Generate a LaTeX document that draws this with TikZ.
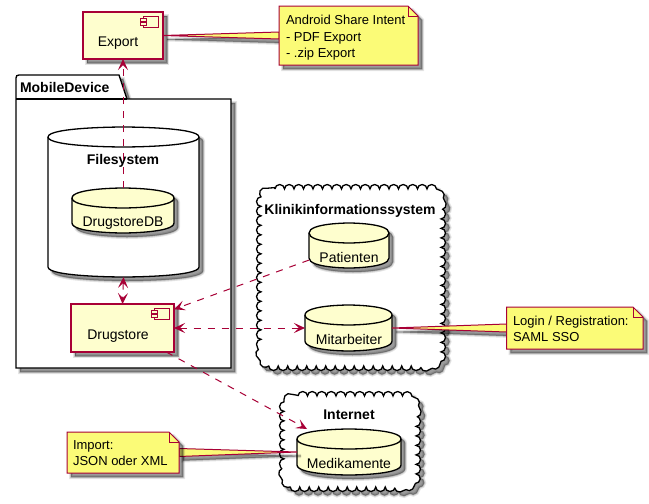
\documentclass[tikz,border=0pt]{standalone}
\usepackage{fontspec}
\setmainfont{Liberation Sans}
\usetikzlibrary{arrows.meta,calc,decorations.pathmorphing}
\definecolor{pumlred}{HTML}{A80036}
\definecolor{pumlfill}{HTML}{FEFECE}
\definecolor{pumlnote}{HTML}{FBFB77}
\tikzset{
  x=1pt,y=-1pt,
  shad/.style={
    preaction={draw=black,fill=black,line width=4,draw opacity=.1,fill opacity=.1,transform canvas={shift={(4pt,-4pt)}}},
    preaction={draw=black,fill=black,line width=2,draw opacity=.14,fill opacity=.14,transform canvas={shift={(4pt,-4pt)}}},
    preaction={draw=black,fill=black,line width=.5,draw opacity=.2,fill opacity=.2,transform canvas={shift={(4pt,-4pt)}}}},
  anchorbox/.style={inner sep=0,outer sep=0,anchor=north west},
  compshape/.style={shad,draw=pumlred,fill=pumlfill,line width=1.2},
  compicon/.style={draw=pumlred,fill=pumlfill,line width=1},
  dbshape/.style={shad,draw=black,fill=pumlfill,line width=1.3},
  dbwhite/.style={shad,draw=black,fill=white,line width=1.3},
  dbline/.style={draw=black,line width=1.3},
  pkgshape/.style={shad,draw=black,fill=white,line width=1.3},
  cloudshape/.style={shad,draw=black,fill=white,line width=1.3,decorate,decoration={bumps,segment length=19pt,amplitude=4.5pt}},
  noteshape/.style={shad,draw=pumlred,fill=pumlnote,line width=1},
  wedge/.style={shad,draw=pumlred,fill=pumlnote,line width=1},
  body/.style={inner sep=0,outer sep=0,anchor=base,font=\fontsize{14}{16}\selectfont},
  titl/.style={inner sep=0,outer sep=0,anchor=base,font=\fontsize{14}{16}\selectfont\bfseries},
  notetext/.style={inner sep=0,outer sep=0,anchor=base west,font=\fontsize{13}{15}\selectfont},
  dep/.style={draw=pumlred,line width=1,dash pattern=on 7pt off 7pt,>={Stealth[inset=5pt,length=11pt,width=10pt,line width=1pt]}},
}
% name, x1, y1, x2, y2
\newcommand{\regnode}[5]{\node[anchorbox,minimum width={(#4-#2)*1pt},minimum height={(#5-#3)*1pt}] (#1) at (#2,#3) {};}
\newcommand{\compnode}[5]{%
  \path[compshape] (#2,#3) rectangle (#4,#5);
  \path[compicon] ({#4-20},{#3+4}) rectangle ({#4-5},{#3+15});
  \path[compicon] ({#4-23},{#3+6}) rectangle ({#4-17},{#3+9});
  \path[compicon] ({#4-23},{#3+10}) rectangle ({#4-17},{#3+13});
  \regnode{#1}{#2}{#3}{#4}{#5}}
% style, name, x1, y1, x2, y2
\newcommand{\dbnode}[6]{%
  \pgfmathsetmacro{\midx}{(#3+#5)/2}
  \path[#1] (#3,{#4+10}) .. controls (#3,#4) and (\midx,#4) .. (\midx,#4)
     .. controls (\midx,#4) and (#5,#4) .. (#5,{#4+10})
     -- (#5,{#6-10}) .. controls (#5,#6) and (\midx,#6) .. (\midx,#6)
     .. controls (\midx,#6) and (#3,#6) .. (#3,{#6-10}) -- cycle;
  \path[dbline] (#3,{#4+10}) .. controls (#3,{#4+20}) and (\midx,{#4+20}) .. (\midx,{#4+20})
     .. controls (\midx,{#4+20}) and (#5,{#4+20}) .. (#5,{#4+10});
  \regnode{#2}{#3}{#4}{#5}{#6}}
\newcommand{\notenode}[5]{%
  \path[noteshape] (#2,#3) -- ({#4-10},#3) -- (#4,{#3+10}) -- (#4,#5) -- (#2,#5) -- cycle;
  \draw[draw=pumlred,line width=1] ({#4-10},#3) -- ({#4-10},{#3+10}) -- (#4,{#3+10});
  \regnode{#1}{#2}{#3}{#4}{#5}}
\newcommand{\cloudnode}[5]{%
  \path[cloudshape] ({#2+14},#3) -- ({#4-14},#3) .. controls ({#4-6},#3) and (#4,{#3+6}) .. (#4,{#3+14})
     -- (#4,{#5-14}) .. controls (#4,{#5-6}) and ({#4-6},#5) .. ({#4-14},#5)
     -- ({#2+14},#5) .. controls ({#2+6},#5) and (#2,{#5-6}) .. (#2,{#5-14})
     -- (#2,{#3+14}) .. controls (#2,{#3+6}) and ({#2+6},#3) .. ({#2+14},#3) -- cycle;
  \regnode{#1}{#2}{#3}{#4}{#5}}
\begin{document}
\begin{tikzpicture}
\useasboundingbox (0,0) rectangle (649,504);
\fill[white] (0,0) rectangle (649,504);
% package
\path[pkgshape] (16,99) -- (16,78) .. controls (16,76) and (17,75) .. (19,75) -- (119,75) -- (127,99) -- (231,99) -- (231,368) -- (16,368) -- cycle;
\draw[black,line width=1.3] (16,99) -- (127,99);
\node[titl,anchor=base west] (pkgtitle) at (20,92) {MobileDevice};
% clouds
\cloudnode{klinik}{261}{189}{441}{366}
\cloudnode{internet}{284}{396}{416}{487}
\node[titl] (kliniktitle) at (350,214) {Klinikinformationssystem};
\node[titl] (internettitle) at (349,419) {Internet};
% filesystem and databases
\dbnode{dbwhite}{filesystem}{48}{127}{199}{277}
\node[titl] (fstitle) at (123,164) {Filesystem};
\dbnode{dbshape}{drugstoredb}{72}{188}{174}{233}
\node[body] (drugstoredbtext) at (123,226) {DrugstoreDB};
\dbnode{dbshape}{patienten}{309}{223}{389}{268}
\node[body] (patiententext) at (349,262) {Patienten};
\dbnode{dbshape}{mitarbeiter}{305}{305}{392}{351}
\node[body] (mitarbeitertext) at (349,344) {Mitarbeiter};
\dbnode{dbshape}{medikamente}{297}{429}{401}{475}
\node[body] (medikamentetext) at (349,468) {Medikamente};
% components
\compnode{export}{83}{12}{163}{59}
\node[body] (exporttext) at (118,46) {Export};
\compnode{drugstore}{71}{304}{174}{352}
\node[body] (drugstoretext) at (118,339) {Drugstore};
% notes
\regnode{noteexport}{279}{6}{418}{65}
\regnode{notelogin}{506.5}{307}{643}{349}
\regnode{noteimport}{67}{432}{179}{473}
\path[wedge] ($(noteexport.west)+(0,-3.5)$) -- (export.east) -- ($(noteexport.west)+(0,3.5)$) -- cycle;
\path[wedge] ($(notelogin.west)+(0,-4)$) -- (mitarbeiter.east) -- ($(notelogin.west)+(0,4)$) -- cycle;
\path[wedge] ($(noteimport.east)+(0,-4)$) -- (medikamente.west) -- ($(noteimport.east)+(0,4)$) -- cycle;
\notenode{noteexportb}{279}{6}{418}{65}
\notenode{noteloginb}{506.5}{307}{643}{349}
\notenode{noteimportb}{67}{432}{179}{473}
\node[notetext] (na1) at (286,24) {Android Share Intent};
\node[notetext] (na2) at (286,41) {- PDF Export};
\node[notetext] (na3) at (286,57) {- .zip Export};
\node[notetext] (nl1) at (513,325) {Login / Registration:};
\node[notetext] (nl2) at (513,341) {SAML SSO};
\node[notetext] (ni1) at (73,449) {Import:};
\node[notetext] (ni2) at (73,465) {JSON oder XML};
% connectors
\draw[dep,->] (drugstoredb.north) -- (export.south);
\draw[dep,<->] (filesystem.south) -- (drugstore.north);
\draw[dep,->] (patienten) -- (drugstore);
\draw[dep,<->] (drugstore.east) -- (mitarbeiter.west);
\draw[dep,->] (drugstore) -- (medikamente);
\end{tikzpicture}
\end{document}
